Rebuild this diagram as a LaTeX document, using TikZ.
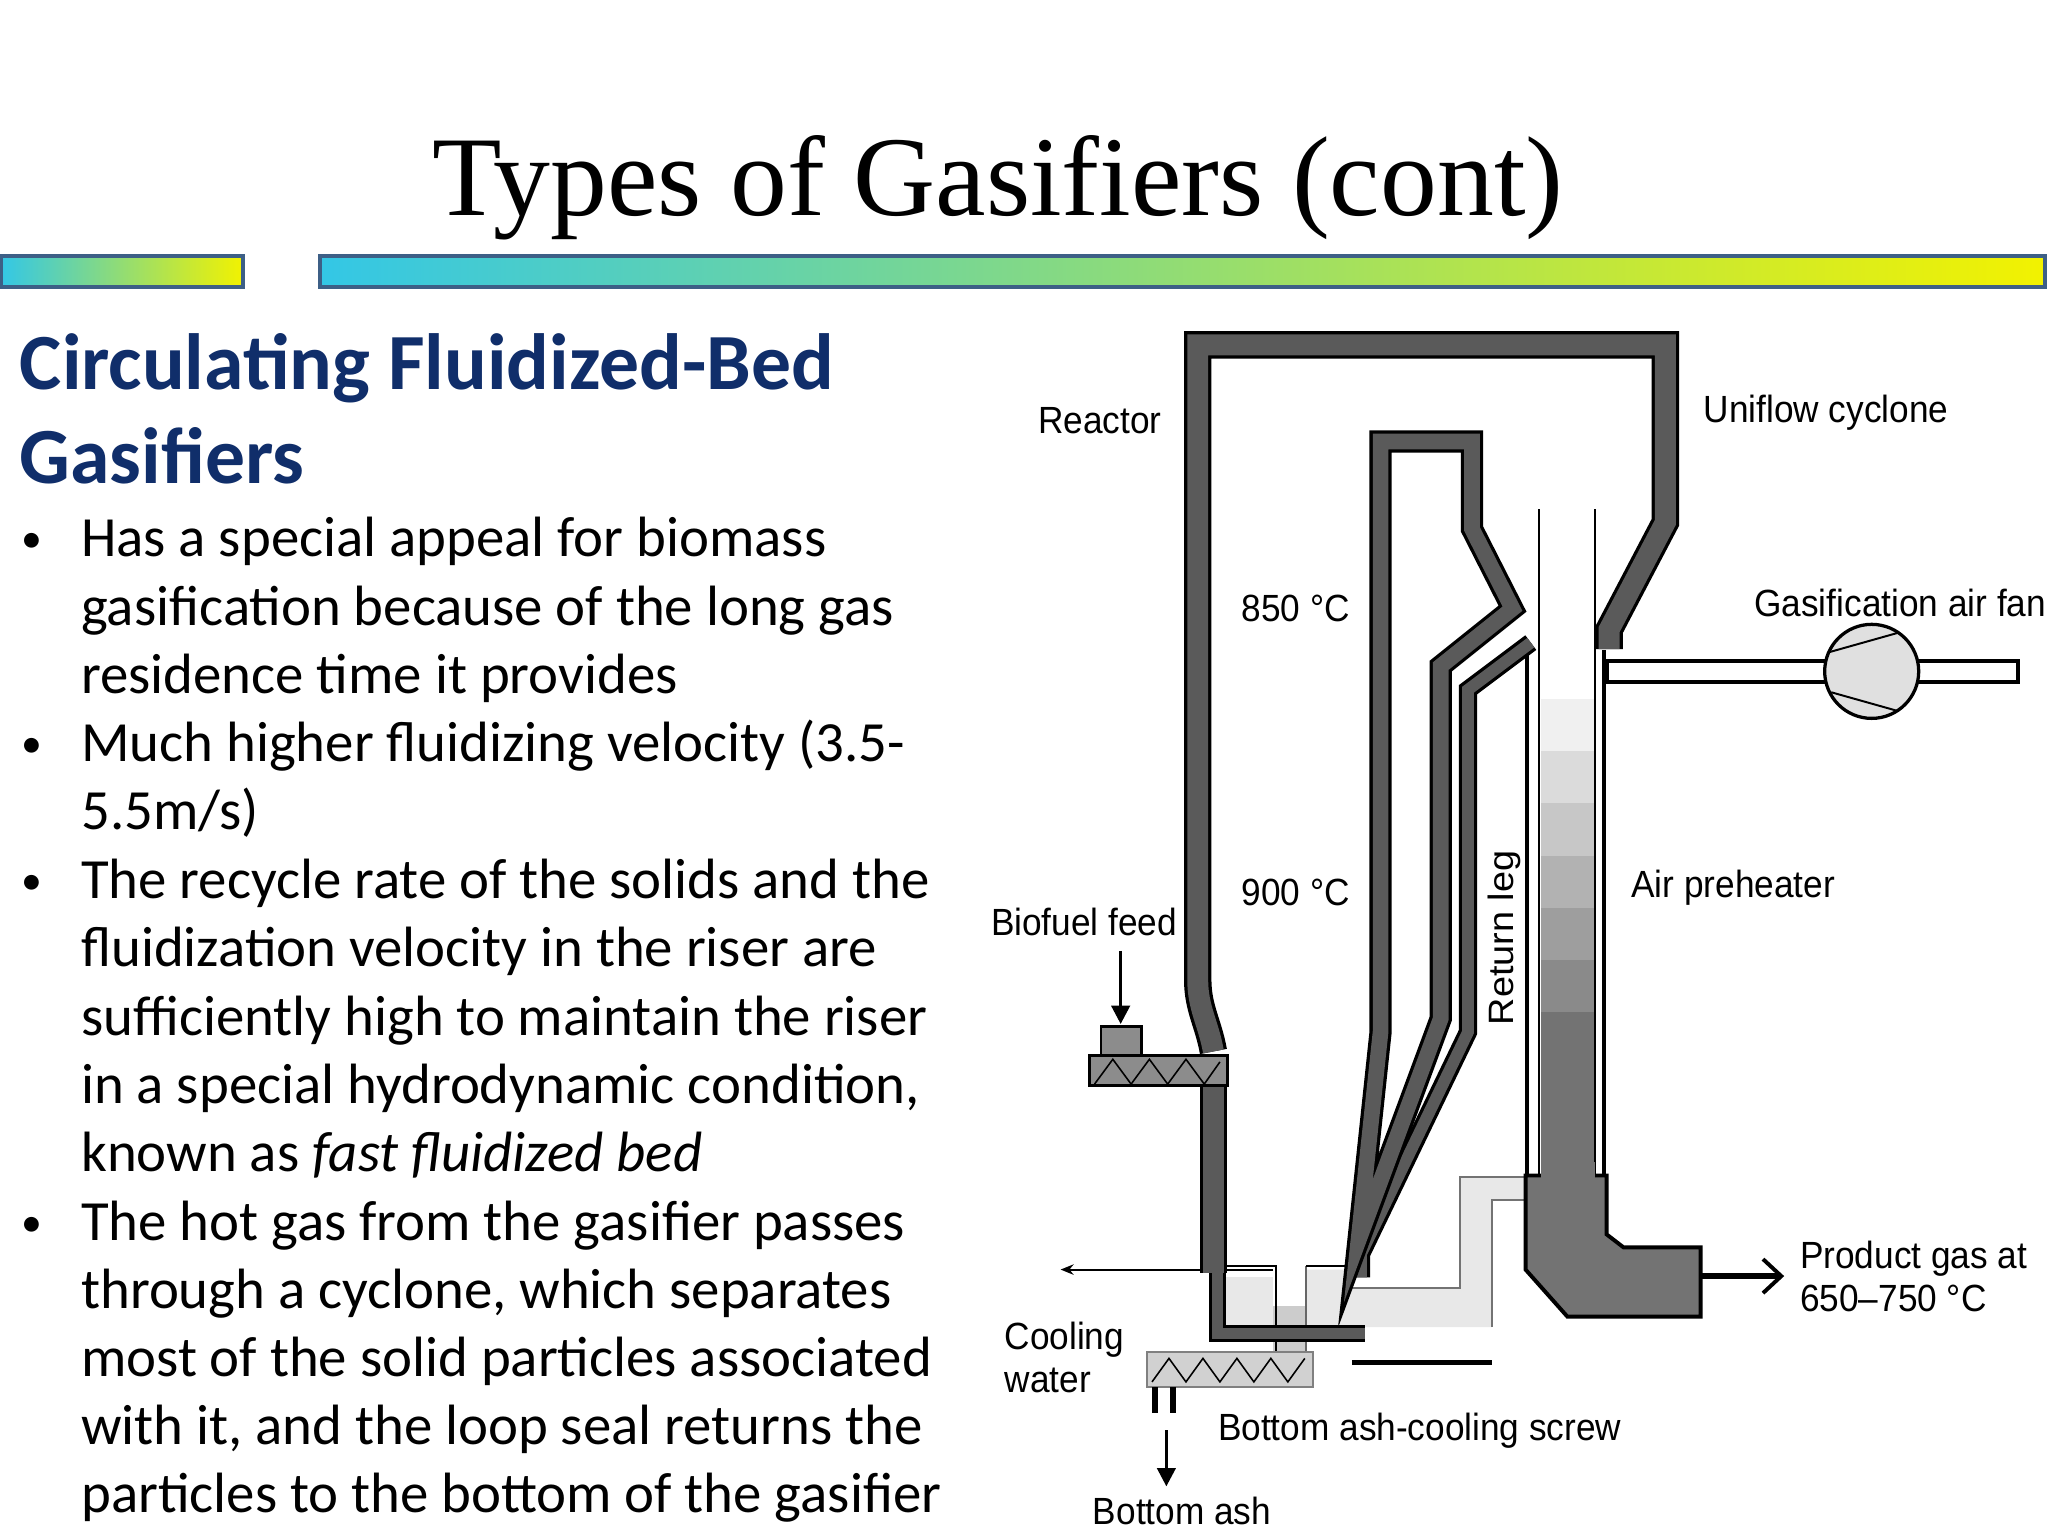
\documentclass[tikz,border=0pt]{standalone}
\usepackage{fontspec}
\setmainfont{Liberation Serif}
\newfontfamily\calfnt{Carlito}
\newfontfamily\ars{Liberation Sans}
\usetikzlibrary{arrows.meta}
\definecolor{wallg}{HTML}{5A5A5A}
\definecolor{navy}{HTML}{102E6A}
\definecolor{barb}{HTML}{3D5F86}
\definecolor{cyanb}{HTML}{33C7E6}
\definecolor{yelb}{HTML}{F2F200}
\begin{document}
\begin{tikzpicture}[x=1pt,y=-1pt,
 wall/.style={draw=black,line width=2.5pt,double=wallg,double distance=16pt,line join=miter},
 wallthin/.style={draw=black,line width=2.5pt,double=wallg,double distance=9pt,line join=miter},
 lbl/.style={font=\ars\fontsize{29}{33}\selectfont,xscale=0.93,transform shape,inner sep=0pt},
 btxt/.style={font=\calfnt\fontsize{43.5}{52}\selectfont,anchor=base west,inner sep=0pt},
 bul/.style={font=\calfnt\fontsize{32}{52}\selectfont,anchor=base west,inner sep=0pt},
 arr/.style={line width=2.5pt,-{Triangle[length=14pt,width=14pt]}}]
\useasboundingbox[fill=white] (0,0) rectangle (1568,1176);
% title
\node[font=\fontsize{87}{90}\selectfont,anchor=base,inner sep=0pt] (title) at (764,165) {Types of Gasifiers (cont)};
\draw[barb,line width=3pt,left color=cyanb,right color=yelb] (1,196) rectangle (186,220);
\draw[barb,line width=3pt,left color=cyanb,right color=yelb] (245,196) rectangle (1566,220);
% heading
\node[font=\calfnt\bfseries\fontsize{61}{72}\selectfont,text=navy,anchor=base west,inner sep=0pt] (h1) at (15,298) {Circulating Fluidized-Bed};
\node[font=\calfnt\bfseries\fontsize{61}{72}\selectfont,text=navy,anchor=base west,inner sep=0pt] (h2) at (15,370) {Gasifiers};
% bullets
\foreach \y/\n in {423/b1,580/b2,685/b3,947/b4}{\node[bul] (\n) at (16,\y) {•};}
\node[btxt] (l1) at (62,426) {Has a special appeal for biomass};
\node[btxt] (l2) at (62,479) {gasification because of the long gas};
\node[btxt] (l3) at (62,531) {residence time it provides};
\node[btxt] (l4) at (62,583) {Much higher fluidizing velocity (3.5-};
\node[btxt] (l5) at (62,635) {5.5m/s)};
\node[btxt] (l6) at (62,688) {The recycle rate of the solids and the};
\node[btxt] (l7) at (62,740) {fluidization velocity in the riser are};
\node[btxt] (l8) at (62,793) {sufficiently high to maintain the riser};
\node[btxt] (l9) at (62,845) {in a special hydrodynamic condition,};
\node[btxt] (l10) at (62,897) {known as \textit{fast fluidized bed}};
\node[btxt] (l11) at (62,950) {The hot gas from the gasifier passes};
\node[btxt] (l12) at (62,1002) {through a cyclone, which separates};
\node[btxt] (l13) at (62,1054) {most of the solid particles associated};
\node[btxt] (l14) at (62,1106) {with it, and the loop seal returns the};
\node[btxt] (l15) at (62,1158) {particles to the bottom of the gasifier};
% ---------- diagram ----------
\foreach \i/\c in {0/6,1/14,2/22,3/30,4/38,5/46}{
  \fill[black!\c] (1180,{535+\i*40}) rectangle (1221,{535+(\i+1)*40});}
\fill[black!55] (1180,775) rectangle (1221,900);
\draw[line width=1.5pt] (1178,390) -- (1178,900);
\draw[line width=1.5pt] (1221,390) -- (1221,900);
\draw[line width=3.5pt] (1228,498) -- (1228,950);
% loop seal
\fill[black!9] (1118,901) -- (1172,901) -- (1172,919) -- (1142,919) -- (1142,1016) -- (1000,1016) -- (1000,972) -- (1035,972) -- (1035,986) -- (1118,986) -- cycle;
\fill[black!9] (939,978) rectangle (975,1024);
\fill[black!20] (975,1000) rectangle (1000,1034);
\draw[black!55,line width=1.5pt] (1035,986) -- (1118,986) -- (1118,901) -- (1172,901);
\draw[black!55,line width=1.5pt] (1142,1016) -- (1142,919) -- (1172,919);
\draw[line width=1.5pt] (929,969) -- (977,969) -- (977,1034);
\draw[black!60,line width=1.2pt] (1000,1034) -- (1000,969);
\draw[line width=1.5pt] (1000,969) -- (1040,969);
\coordinate (cwA) at (975,972);
\coordinate (cwB) at (812,972);
\draw[line width=1.5pt,-{Stealth[length=10pt,width=8pt]}] (cwA) -- (cwB);
\draw[wallthin,double distance=8pt] (932,975) -- (932,1021) -- (1045,1021);
% return leg band and inner wall
\draw[line width=3.5pt] (1169,499) -- (1169,902);
\draw[wallthin] (1042,978) -- (1042,960) -- (1124,790) -- (1124,528) -- (1172,492);
\draw[wallthin,double distance=12pt] (1040,950) -- (1057,790) -- (1057,338) -- (1127,338) -- (1127,405) -- (1158,466) -- (1103,510) -- (1103,780) -- cycle;
% reactor wall
\draw[wall] (1232,497) -- (1232,482) -- (1275,400) -- (1275,264) -- (917,264) -- (917,750) to[out=-90,in=100] (929,805);
\draw[wall] (929,831) -- (929,975);
% feed screw
\draw[line width=2pt,fill=black!45] (843,786) rectangle (874,808);
\draw[line width=2pt,fill=black!45] (834,808) rectangle (940,831);
\draw[line width=1.2pt] (838,830) -- (852,811) -- (866,830) -- (880,811) -- (894,830) -- (908,811) -- (922,830) -- (934,813);
\coordinate (bfA) at (858,728);
\coordinate (bfB) at (858,784);
\draw[arr] (bfA) -- (bfB);
% product gas duct
\draw[line width=3pt,fill=black!55,line join=miter] (1168,900) -- (1230,900) -- (1230,945) -- (1243,955) -- (1302,955) -- (1302,1008) -- (1200,1008) -- (1168,972) -- cycle;
\fill[black!55] (1180,890) rectangle (1221,910);
\coordinate (pgA) at (1302,977);
\coordinate (pgB) at (1366,977);
\draw[line width=4pt,-{Straight Barb[length=14pt,width=26pt,line width=3pt]}] (pgA) -- (pgB);
% air pipe and fan
\draw[line width=3pt,fill=white] (1230,506) rectangle (1545,522);
\node[circle,draw=black,line width=2.5pt,fill=black!12,minimum size=72pt,inner sep=0pt] (fan) at (1433,514) {};
\begin{scope}
\clip (1433,514) circle (35);
\draw[line width=1.5pt] (1398,500) -- (1462,482);
\draw[line width=1.5pt] (1402,530) -- (1466,548);
\end{scope}
% ash screw
\draw[black!50,line width=1.5pt,fill=black!18] (878,1035) rectangle (1005,1062);
\draw[line width=1.2pt] (882,1058) -- (895,1040) -- (908,1058) -- (921,1040) -- (934,1058) -- (947,1040) -- (960,1058) -- (973,1040) -- (986,1058) -- (999,1040);
\draw[line width=4.5pt] (884,1062) -- (884,1082);
\draw[line width=4.5pt] (898,1062) -- (898,1082);
\draw[line width=4pt] (1035,1043) -- (1142,1043);
\coordinate (baA) at (893,1095);
\coordinate (baB) at (893,1138);
\draw[arr] (baA) -- (baB);
% labels
\node[lbl] (reactor) at (842,322) {Reactor};
\node[lbl] (uni) at (1398,316) {Uniflow cyclone};
\node[lbl] (t850) at (992,466) {850 °C};
\node[lbl,anchor=west] (fanl) at (1343,462) {Gasification air fan};
\node[lbl] (t900) at (992,683) {900 °C};
\node[lbl] (bio) at (830,706) {Biofuel feed};
\node[lbl,rotate=90] (ret) at (1152,718) {Return leg};
\node[lbl] (pre) at (1327,680) {Air preheater};
\node[lbl,anchor=west,align=left] (prod) at (1378,977) {Product gas at\\650–750 °C};
\node[lbl,anchor=west,align=left] (cool) at (769,1039) {Cooling\\water};
\node[lbl] (screw) at (1087,1095) {Bottom ash-cooling screw};
\node[lbl] (bash) at (905,1157) {Bottom ash};
\end{tikzpicture}
\end{document}
